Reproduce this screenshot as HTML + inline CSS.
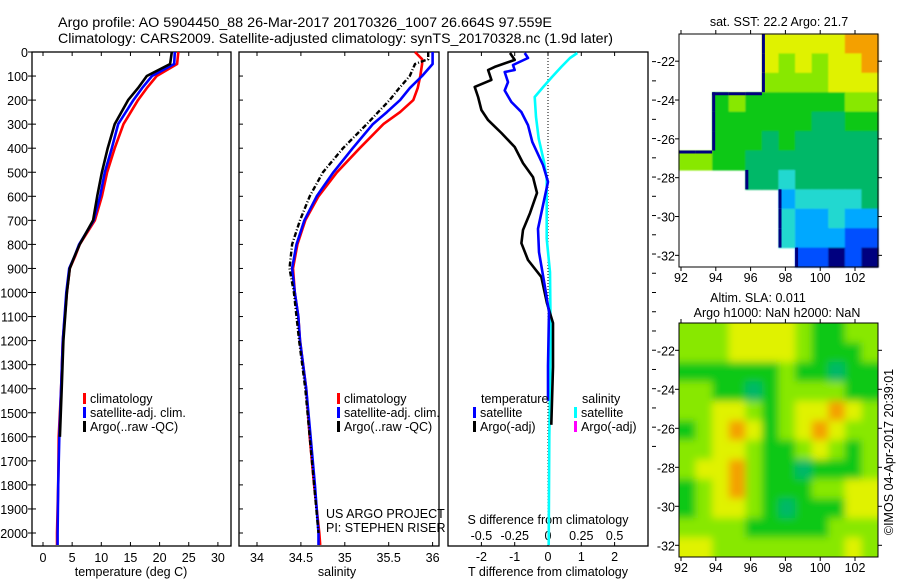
<!DOCTYPE html>
<html><head><meta charset="utf-8">
<style>
html,body{margin:0;padding:0;background:#fff;}
svg{display:block;font-family:"Liberation Sans",sans-serif;}
text{font-size:12.5px;fill:#000;}
</style></head>
<body>
<svg id="fig" width="900" height="580" viewBox="0 0 900 580" xmlns="http://www.w3.org/2000/svg">
<defs>
<filter id="blurSla" x="-10%" y="-10%" width="120%" height="120%"><feGaussianBlur stdDeviation="4"/></filter>
<filter id="blurSst" x="-5%" y="-5%" width="110%" height="110%"><feGaussianBlur stdDeviation="0.8"/></filter>
<clipPath id="clipSla"><rect x="679" y="323" width="199" height="234"/></clipPath>
</defs>
<text x="58" y="27" textLength="494" lengthAdjust="spacingAndGlyphs" style="font-size:14px">Argo profile: AO 5904450_88 26-Mar-2017 20170326_1007 26.664S 97.559E</text>
<text x="58" y="43" textLength="555" lengthAdjust="spacingAndGlyphs" style="font-size:14px">Climatology: CARS2009. Satellite-adjusted climatology: synTS_20170328.nc (1.9d later)</text>
<text x="131" y="576" text-anchor="middle">temperature (deg C)</text>
<text x="337" y="576" text-anchor="middle">salinity</text>
<text x="548" y="524" text-anchor="middle">S difference from climatology</text>
<text x="548" y="576" text-anchor="middle">T difference from climatology</text>
<text x="326" y="518">US ARGO PROJECT</text>
<text x="326" y="532">PI: STEPHEN RISER</text>
<text x="779" y="26" text-anchor="middle">sat. SST: 22.2 Argo: 21.7</text>
<text x="758" y="302" text-anchor="middle">Altim. SLA: 0.011</text>
<text x="777" y="317" text-anchor="middle">Argo h1000: NaN h2000: NaN</text>
<text x="0" y="0" transform="translate(893,452) rotate(-90)" text-anchor="middle">©IMOS 04-Apr-2017 20:39:01</text>
</svg>
<script>
// ---------- data ----------
const depthTicks = [0,100,200,300,400,500,600,700,800,900,1000,1100,1200,1300,1400,1500,1600,1700,1800,1900,2000];
const tempTicks = [0,5,10,15,20,25,30];
const salTicks = [34,34.5,35,35.5,36];
const tdiffTicks = [-2,-1,0,1,2];
const sdiffTicks = [-0.5,-0.25,0,0.25,0.5];
const sdiffTickLabels = ["-0.5","-0.25","0","0.25","0.5"];
const lonTicks = [92,94,96,98,100,102];
const latTicks = [-22,-24,-26,-28,-30,-32];

const depthT = [0,50,100,150,200,300,400,500,600,700,800,850,900,1000,1200,1400,1600,1800,2000,2050];
const climT = [23.2,23,19.5,17.8,16.3,13.8,12.3,11,10.1,8.9,6.3,5.5,4.6,4.1,3.4,3.1,2.7,2.6,2.4,2.4];
const satT  = [22.6,22.5,18.7,17,15.5,12.9,11.8,10.6,9.8,8.7,6.2,5.4,4.5,4.0,3.4,3.1,2.8,2.6,2.5,2.5];
const argoT = [22.1,21.8,17.8,16.3,14.6,12.3,11.1,10.1,9.3,8.6,6.3,5.4,4.6,4.1,3.5,3.2,2.9,null,null,null];

const depthS = [0,30,50,100,150,200,250,300,400,500,600,700,800,900,1000,1100,1200,1400,1600,1800,2000,2050];
const climS = [35.80,35.88,35.88,35.86,35.83,35.78,35.63,35.44,35.17,34.91,34.70,34.55,34.46,34.41,34.43,34.47,34.49,34.56,34.60,34.65,34.71,34.72];
const satS  = [36.0,36.0,36.0,35.88,35.74,35.63,35.48,35.32,35.09,34.87,34.68,34.54,34.45,34.40,34.43,34.47,34.49,34.56,34.61,34.66,34.70,34.70];
const argoS = [35.95,35.95,35.8,35.74,35.62,35.51,35.38,35.25,34.98,34.75,34.60,34.49,34.40,34.37,34.42,34.45,34.48,34.55,34.60,34.65,34.70,null];

const depthArgoDT = [4,33,62,75,116,145,187,241,283,337,395,462,520,586,670,740,795,865,935,1045,1127,1310,1550];
const argoDT = [-1.14,-1.0,-1.6,-1.8,-1.7,-2.2,-2.1,-2.0,-1.8,-1.4,-1.0,-0.75,-0.45,-0.33,-0.54,-0.75,-0.8,-0.6,-0.2,-0.03,0.15,0.15,0.1];
const depthSatDT = [4,25,54,75,83,125,160,208,250,304,374,470,540,637,735,832,970,1081,1304,1450];
const satDT = [-0.7,-0.6,-1.05,-1.0,-1.3,-1.2,-1.3,-1.1,-0.8,-0.6,-0.47,-0.15,0,-0.15,-0.3,-0.27,-0.1,0.03,0,0];
const depthSatDS = [4,25,62,104,145,187,270,360,457,526,776,915,1193,1600,2050];
const satDS = [0.22,0.165,0.1,0.03,-0.035,-0.1,-0.09,-0.07,-0.03,-0.01,-0.01,0.015,0.02,0.01,0.005];

const N = null;
const sstGrid = [
 [N,N,N,N,N,7,7,7,7,7,8,8],
 [N,N,N,N,N,7,6,7,6,7,7,8],
 [N,N,N,N,N,6,6,6,6,7,7,7],
 [N,N,5,6,5,5,5,5,5,5,6,6],
 [N,N,5,5,5,5,5,5,4,4,5,5],
 [N,N,5,5,5,4,5,4,4,4,4,4],
 [6,6,5,5,4,4,4,4,4,4,4,4],
 [N,N,N,N,4,4,3,4,4,4,4,4],
 [N,N,N,N,N,N,2,3,3,3,3,4],
 [N,N,N,N,N,N,3,2,2,3,2,2],
 [N,N,N,N,N,N,3,2,2,2,1,1],
 [N,N,N,N,N,N,N,1,1,0,1,0]
];
const slaGrid = [
 [6,6,6,7,7,7,7,6,5,5,6,6],
 [6,6,6,7,7,7,7,6,5,5,5,6],
 [5,5,5,5,5,5,6,5,5,4,5,5],
 [6,6,5,5,4,5,6,6,6,6,5,5],
 [6,6,7,7,6,5,6,7,7,8,7,6],
 [5,6,7,8,7,5,6,7,8,7,6,6],
 [6,6,7,7,6,5,5,6,7,6,5,6],
 [6,7,7,8,6,5,5,4,5,5,5,6],
 [5,6,7,8,6,5,5,5,6,6,7,7],
 [5,6,7,7,6,5,4,5,5,5,7,7],
 [6,6,6,6,5,5,5,5,5,6,6,6],
 [7,7,6,6,6,6,6,6,6,6,7,6]
];
const palette = ["#00007f","#0050ff","#00a8ff","#20d8d0","#00b868","#10c818","#88e800","#e0f200","#f4a000","#f08000"];

// ---------- helpers ----------
const svg = document.getElementById('fig');
const NS = 'http://www.w3.org/2000/svg';
function mk(tag, attrs, parent){ const e=document.createElementNS(NS,tag); for(const k in attrs) e.setAttribute(k,attrs[k]); (parent||svg).appendChild(e); return e; }

const yD = d => 52 + 0.2405*d;
const xT = t => 43 + 5.83*t;
const xS = s => 257 + 87.8*(s-34);
const xDT = t => 548 + 33.3*t;
const xDS = s => 548 + 133.2*s;
const P1={x0:32,x1:231}, P2={x0:239,x1:439}, P3={x0:448,x1:648}, YT=52, YB=546;

function drawMap(grid, x0, y0, x1, y1, nm, smooth){
  const rows=grid.length, cols=grid[0].length, cw=(x1-x0)/cols, ch=(y1-y0)/rows;
  const outer=mk('g', smooth?{'clip-path':'url(#clipSla)'}:{});
  
  
  const g=mk('g',{filter: smooth?'url(#blurSla)':'url(#blurSst)'}, outer);
  for(let r=0;r<rows;r++) for(let c=0;c<cols;c++){
    const v=grid[r][c]; if(v===null) continue;
    let x=x0+c*cw, y=y0+r*ch, w=cw+0.6, h=ch+0.6;
    if(smooth){
      if(c===0){x-=20;w+=20;} if(c===cols-1){w+=20;}
      if(r===0){y-=20;h+=20;} if(r===rows-1){h+=20;}
    }
    const cell=mk('rect',{x:x,y:y,width:w,height:h,fill:palette[v]}, g);
    
    
  }
  if(!smooth){
    for(let r=0;r<rows;r++) for(let c=0;c<cols;c++){
      const v=grid[r][c]; if(v===null) continue;
      const left = c>0 && grid[r][c-1]===null;
      const top = r>0 && grid[r-1][c]===null;
      if(left){ const e=mk('rect',{x:x0+c*cw,y:y0+r*ch,width:3,height:ch,fill:'#00007f'});   }
      if(top){ const e=mk('rect',{x:x0+c*cw,y:y0+r*ch,width:cw,height:3,fill:'#00007f'});   }
    }
  }
  const frame=mk('rect',{x:x0,y:y0,width:x1-x0,height:y1-y0,fill:'none',stroke:'#000','stroke-width':1});
  
  
  const lonX = l => 681 + 17.4*(l-92);
  const latY = a => y0 + (y1-y0)*((-20.6 - a)/12);
  lonTicks.forEach(l=>{
    const x=lonX(l);
    const tk=mk('line',{x1:x,x2:x,y1:y1,y2:y1+4,stroke:'#000'});
     
    const tk2=mk('line',{x1:x,x2:x,y1:y0,y2:y0-4,stroke:'#000'});
     
    const t=mk('text',{x:x,y:y1+15,'text-anchor':'middle'}); t.textContent=l;
     
  });
  latTicks.forEach(a=>{
    const y=latY(a);
    const tk=mk('line',{x1:x0,x2:x0-4,y1:y,y2:y,stroke:'#000'});
     
    const tk2=mk('line',{x1:x1,x2:x1+4,y1:y,y2:y,stroke:'#000'});
     
    const t=mk('text',{x:x0-4,y:y+5,'text-anchor':'end'}); t.textContent=a;
     
  });
}
drawMap(sstGrid, 679, 34, 878, 267, 'sst-map', false);
drawMap(slaGrid, 679, 323, 878, 557, 'sla-map', true);

[[P1,'temperature-panel'],[P2,'salinity-panel'],[P3,'difference-panel']].forEach(([p,nm])=>{
  const f=mk('rect',{x:p.x0,y:YT,width:p.x1-p.x0,height:YB-YT,fill:'none',stroke:'#000','stroke-width':1.3});
  
  
});

depthTicks.forEach(d=>{
  const y=yD(d);
  const t=mk('text',{x:28,y:y+5,'text-anchor':'end'}); t.textContent=d;
   
  [P1.x0,P2.x0].forEach(x=>{
    const tk=mk('line',{x1:x,x2:x+4,y1:y,y2:y,stroke:'#000'});
     
  });
  const tk2=mk('line',{x1:P1.x0-4,x2:P1.x0,y1:y,y2:y,stroke:'#000'});
   
});
depthTicks.forEach(d=>{
  const y=yD(d*0.8+40);
  const tk=mk('line',{x1:P3.x1+4,x2:P3.x1+8,y1:y,y2:y,stroke:'#000'});
   
});

function xTicks(vals, labels, fx, ly){
  vals.forEach((v,i)=>{
    const x=fx(v);
    const a=mk('line',{x1:x,x2:x,y1:YT,y2:YT+4,stroke:'#000'});
     
    const b=mk('line',{x1:x,x2:x,y1:YB,y2:YB-4,stroke:'#000'});
     
    const t=mk('text',{x:x,y:ly,'text-anchor':'middle'}); t.textContent=labels[i];
     
  });
}
xTicks(tempTicks, tempTicks, xT, 562);
xTicks(salTicks, salTicks, xS, 562);
xTicks(tdiffTicks, tdiffTicks, xDT, 561);
sdiffTicks.forEach((v,i)=>{
  const t=mk('text',{x:xDS(v),y:540,'text-anchor':'middle'}); t.textContent=sdiffTickLabels[i];
   
});
const z=mk('line',{x1:xDT(0),x2:xDT(0),y1:YT,y2:YB,stroke:'#000','stroke-dasharray':'1,2'});
 

function series(depths, vals, fx, color, nm, dash, sw){
  let d='', pen=false;
  depths.forEach((dep,i)=>{
    const v=vals[i];
    if(v===null){pen=false;return;}
    d += (pen?'L':'M') + fx(v).toFixed(1)+','+yD(dep).toFixed(1)+' ';
    pen=true;
  });
  const attrs={d:d,fill:'none',stroke:color,'stroke-width':sw||2.6,'stroke-linejoin':'round'};
  if(dash) attrs['stroke-dasharray']=dash;
  const p=mk('path',attrs);
  
  
}
series(depthT, climT, xT, '#ff0000', 'temp-climatology-line');
series(depthT, satT, xT, '#0000ff', 'temp-satellite-line');
series(depthT, argoT, xT, '#000000', 'temp-argo-line');
series(depthS, climS, xS, '#ff0000', 'sal-climatology-line');
series(depthS, satS, xS, '#0000ff', 'sal-satellite-line');
series(depthS, argoS, xS, '#000000', 'sal-argo-line', '5,2,1,2', 2.4);
series(depthSatDS, satDS, xDS, '#00ffff', 'sdiff-satellite-line');
series(depthArgoDT, argoDT, xDT, '#000000', 'tdiff-argo-line');
series(depthSatDT, satDT, xDT, '#0000ff', 'tdiff-satellite-line');

function legendRow(x, y, color, label, nm){
  const m=mk('rect',{x:x,y:y-10,width:3,height:11,fill:color});
   
  const t=mk('text',{x:x+7,y:y}); t.textContent=label;
   
}
[[83,'temp'],[337,'sal']].forEach(([x,p])=>{
  legendRow(x,403,'#ff0000','climatology',p+'-legend-climatology');
  legendRow(x,417,'#0000ff','satellite-adj. clim.',p+'-legend-satellite');
  legendRow(x,431,'#000000','Argo(..raw -QC)',p+'-legend-argo');
});
const lt=mk('text',{x:481,y:403}); lt.textContent='temperature';
 
const ls=mk('text',{x:582,y:403}); ls.textContent='salinity';
 
legendRow(473,417,'#0000ff','satellite','diff-legend-temp-satellite');
legendRow(473,431,'#000000','Argo(-adj)','diff-legend-temp-argo');
legendRow(574,417,'#00ffff','satellite','diff-legend-sal-satellite');
legendRow(574,431,'#ff00ff','Argo(-adj)','diff-legend-sal-argo');
</script>
</body></html>
